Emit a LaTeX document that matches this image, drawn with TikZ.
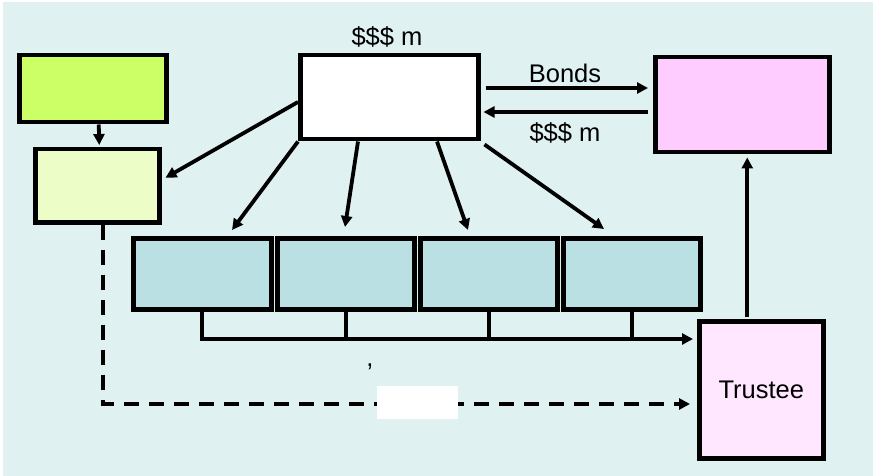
\documentclass[tikz,border=0pt]{standalone}
\usepackage{fontspec}
\setmainfont{Liberation Sans}
\usetikzlibrary{arrows.meta,calc}
\definecolor{bgc}{HTML}{DFF1F1}
\definecolor{grn}{HTML}{CCFF66}
\definecolor{lgrn}{HTML}{ECFDC8}
\definecolor{pnk}{HTML}{FFCCFF}
\definecolor{teal2}{HTML}{BBE0E3}
\definecolor{lpnk}{HTML}{FFE8FF}
\tikzset{
  box/.style={draw=black, line width=4.5pt, anchor=north west, inner sep=0pt},
  arr/.style={line width=3.8pt, -{Triangle[length=11pt,width=11pt]}},
  dasharr/.style={arr, dash pattern=on 15pt off 10pt},
  plain/.style={line width=3.8pt},
  lbl/.style={font=\fontsize{25.5}{30}\selectfont, inner sep=0pt}
}
\begin{document}
\begin{tikzpicture}[x=1pt,y=-1pt]
\useasboundingbox (0,0) rectangle (873,476);
\fill[bgc] (3,2) rectangle (873,476);
% boxes
\node[box, fill=grn, minimum width=147pt, minimum height=67pt] (g) at (17,53) {};
\node[box, fill=lgrn, minimum width=124pt, minimum height=73pt] (lg) at (33,147) {};
\node[box, fill=white, minimum width=178pt, minimum height=84pt] (w) at (298,53) {};
\node[box, fill=pnk, minimum width=174pt, minimum height=95pt] (pk) at (653,55) {};
\node[box, fill=teal2, minimum width=138pt, minimum height=71pt] (t1) at (131,236) {};
\node[box, fill=teal2, minimum width=137pt, minimum height=71pt] (t2) at (275,236) {};
\node[box, fill=teal2, minimum width=137pt, minimum height=71pt] (t3) at (418,236) {};
\node[box, fill=teal2, minimum width=137pt, minimum height=71pt] (t4) at (561,236) {};
\node[box, fill=lpnk, minimum width=124pt, minimum height=137pt] (tr) at (697,319) {};
\node[lbl] at (tr.center) {Trustee};
% labels
\node[lbl] (top) at (387,37) {\$\$\$ m};
\node[lbl] (bonds) at (565,73) {Bonds};
\node[lbl] (ret) at (565,133) {\$\$\$ m};
\node[lbl] (comma) at (370,367) {,};
% arrows from white box
\draw[arr] ($(w.north west)+(0,49)$) -- ($(lg.east)+(4,-8)$);
\draw[arr] (w.south west) -- ($(t1.north west)+(101,-6)$);
\draw[arr] ($(w.south west)+(60,0)$) -- ($(t2.north west)+(70,-9)$);
\draw[arr] ($(w.south west)+(139,0)$) -- ($(t3.north west)+(50,-6)$);
\draw[arr] ($(w.south east)+(4,3)$) -- ($(t4.north west)+(43,-7)$);
% bonds
\draw[arr] ($(w.north east)+(5,35)$) -- ($(pk.north west)+(-5,33)$);
\draw[arr] ($(pk.north west)+(-5,57)$) -- ($(w.north east)+(3,59)$);
% green to light green
\draw[arr] ($(g.south)+(6,0)$) -- ($(lg.north)+(2,-2)$);
% bus
\coordinate (busend) at ($(tr.north west)+(-4,20)$);
\draw[arr] (t1.south) |- (busend);
\draw[plain] (t2.south) -- (t2.south |- busend);
\draw[plain] (t3.south) -- (t3.south |- busend);
\draw[plain] (t4.south) -- (t4.south |- busend);
% dashed
\coordinate (dashend) at ($(tr.north west)+(-7,85)$);
\draw[dasharr] ($(lg.south)+(6,0)$) |- (dashend);
\node[fill=white, minimum width=81pt, minimum height=33pt, inner sep=0pt, anchor=north west] (blank) at (377,386) {};
% trustee up
\draw[arr] ($(tr.north)+(-14,-2)$) -- ($(pk.south)+(5,3)$);
\end{tikzpicture}
\end{document}
